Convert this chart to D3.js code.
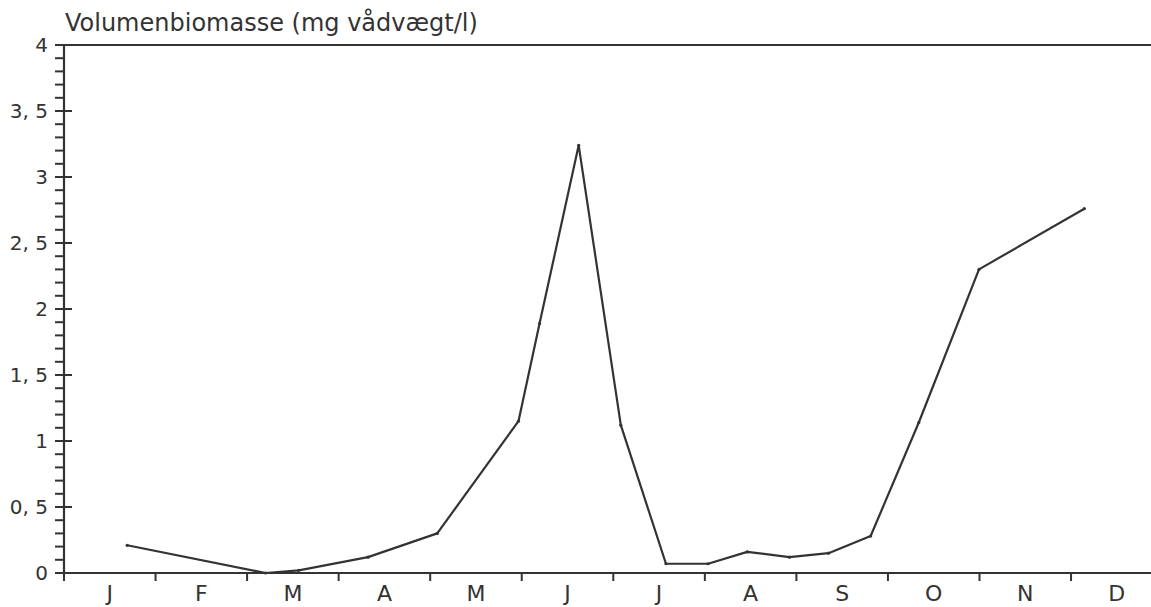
<!DOCTYPE html>
<html>
<head>
<meta charset="utf-8">
<script src="https://cdn.jsdelivr.net/npm/d3@7"></script>
<style>
  body { margin: 0; background: #fff; }
  svg { display: block; font-family: "DejaVu Sans", sans-serif; }
</style>
</head>
<body>
<svg id="chart"></svg>
<script>
// Chart size
const width = 1151;
const height = 607;

// Data: sampling day (day of year) and volume biomass (mg wet weight / l)
const sampleDays = [21, 67, 78, 101, 124, 151, 158, 171, 185, 200, 214, 227, 241, 254, 268, 284, 304, 339];
const biomass = [0.21, 0.0, 0.02, 0.12, 0.30, 1.15, 1.89, 3.24, 1.12, 0.07, 0.07, 0.16, 0.12, 0.15, 0.28, 1.14, 2.30, 2.76];

// Axis labels
const monthLabels = ["J", "F", "M", "A", "M", "J", "J", "A", "S", "O", "N", "D"];
const yTicks = [0, 0.5, 1, 1.5, 2, 2.5, 3, 3.5, 4];
const yMinorTicks = d3.range(0, 40).map(d => d / 10);
const title = "Volumenbiomasse (mg vådvægt/l)";

const ink = "#333";

const svg = d3.select("#chart")
  .attr("width", width)
  .attr("height", height);

// Scales
const x = d3.scaleLinear().domain([0, 365]).range([64, 1162.6]);
const y = d3.scaleLinear().domain([0, 4]).range([573, 45]);

const monthBounds = d3.range(0, 13).map(i => i * 365 / 12);

// Top frame line
svg.append("line")
  .attr("x1", x(0)).attr("x2", width)
  .attr("y1", y(4)).attr("y2", y(4))
  .attr("stroke", ink).attr("stroke-width", 2.2);

// Y axis with minor ticks (left only) and major ticks (crossing)
const yAxis = svg.append("g").attr("transform", `translate(${x(0)},0)`);
yAxis.append("line")
  .attr("y1", y(0)).attr("y2", y(4))
  .attr("stroke", ink).attr("stroke-width", 2.2);
yAxis.selectAll(".minor")
  .data(yMinorTicks)
  .enter()
  .append("line")
  .attr("class", "minor")
  .attr("x1", -9).attr("x2", 0)
  .attr("y1", d => y(d)).attr("y2", d => y(d))
  .attr("stroke", ink).attr("stroke-width", 2);
yAxis.selectAll(".major")
  .data(yTicks)
  .enter()
  .append("line")
  .attr("class", "major")
  .attr("x1", -9).attr("x2", 8)
  .attr("y1", d => y(d)).attr("y2", d => y(d))
  .attr("stroke", ink).attr("stroke-width", 2);
yAxis.selectAll(".ylabel")
  .data(yTicks)
  .enter()
  .append("text")
  .attr("class", "ylabel")
  .attr("x", -16)
  .attr("y", d => y(d))
  .attr("dy", "0.36em")
  .attr("text-anchor", "end")
  .attr("font-size", 20)
  .attr("fill", ink)
  .text(d => String(d).replace(".", ", "));

// X axis with month ticks
const xAxis = svg.append("g");
xAxis.append("line")
  .attr("x1", x(0)).attr("x2", width)
  .attr("y1", y(0)).attr("y2", y(0))
  .attr("stroke", ink).attr("stroke-width", 2.2);
xAxis.selectAll(".xtick")
  .data(monthBounds)
  .enter()
  .append("line")
  .attr("class", "xtick")
  .attr("x1", d => x(d)).attr("x2", d => x(d))
  .attr("y1", y(0)).attr("y2", y(0) + 8)
  .attr("stroke", ink).attr("stroke-width", 2);
xAxis.selectAll(".xlabel")
  .data(monthLabels)
  .enter()
  .append("text")
  .attr("class", "xlabel")
  .attr("x", (d, i) => x((i + 0.5) * 365 / 12))
  .attr("y", 601)
  .attr("text-anchor", "middle")
  .attr("font-size", 22)
  .attr("fill", ink)
  .text(d => d);

// Title
svg.append("text")
  .attr("x", 65)
  .attr("y", 31)
  .attr("font-size", 24)
  .attr("fill", ink)
  .text(title);

// Data line
const points = sampleDays.map((d, i) => [d, biomass[i]]);
const line = d3.line()
  .x(d => x(d[0]))
  .y(d => y(d[1]));

svg.append("path")
  .datum(points)
  .attr("d", line)
  .attr("fill", "none")
  .attr("stroke", ink)
  .attr("stroke-width", 2.2)
  .attr("stroke-linejoin", "round");

svg.selectAll(".point")
  .data(points)
  .enter()
  .append("circle")
  .attr("class", "point")
  .attr("cx", d => x(d[0]))
  .attr("cy", d => y(d[1]))
  .attr("r", 1.6)
  .attr("fill", ink);
</script>
</body>
</html>
